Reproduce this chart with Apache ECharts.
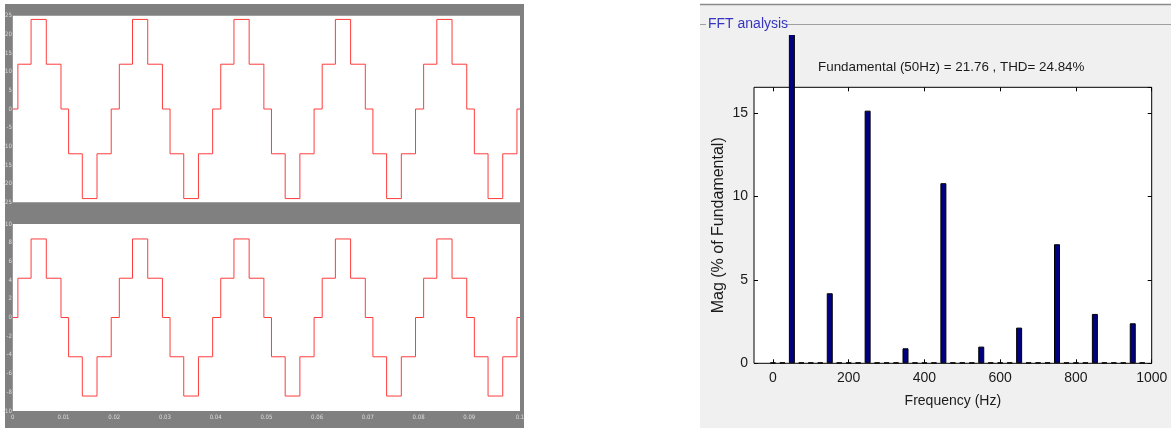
<!DOCTYPE html>
<html>
<head>
<meta charset="utf-8">
<script src="https://cdn.jsdelivr.net/npm/echarts@6/dist/echarts.min.js"></script>
<style>
html,body{margin:0;padding:0;background:#fff;}
#chart{width:1171px;height:430px;}
</style>
</head>
<body>
<div id="chart"></div>
<script>
// ---- Scope waveforms (time in s) ----
var waveTimes = [0,
  0.001, 0.0036, 0.0066, 0.0095, 0.011, 0.0137, 0.0166, 0.0194,
  0.021, 0.0236, 0.0266, 0.0295, 0.031, 0.0337, 0.0366, 0.0394,
  0.041, 0.0436, 0.0466, 0.0495, 0.051, 0.0537, 0.0566, 0.0594,
  0.061, 0.0636, 0.0666, 0.0695, 0.071, 0.0737, 0.0766, 0.0794,
  0.081, 0.0836, 0.0866, 0.0895, 0.091, 0.0937, 0.0966, 0.0994,
  0.1];
var topLevels = [0,
  12, 24, 12, 0, -12, -24, -12, 0,
  12, 24, 12, 0, -12, -24, -12, 0,
  12, 24, 12, 0, -12, -24, -12, 0,
  12, 24, 12, 0, -12, -24, -12, 0,
  12, 24, 12, 0, -12, -24, -12, 0,
  0];
var bottomLevels = [0,
  4.2, 8.4, 4.2, 0, -4.2, -8.4, -4.2, 0,
  4.2, 8.4, 4.2, 0, -4.2, -8.4, -4.2, 0,
  4.2, 8.4, 4.2, 0, -4.2, -8.4, -4.2, 0,
  4.2, 8.4, 4.2, 0, -4.2, -8.4, -4.2, 0,
  4.2, 8.4, 4.2, 0, -4.2, -8.4, -4.2, 0,
  0];

// ---- FFT spectrum ----
var fftFreqs = [0, 25, 50, 75, 100, 125, 150, 175, 200, 225,
  250, 275, 300, 325, 350, 375, 400, 425, 450, 475,
  500, 525, 550, 575, 600, 625, 650, 675, 700, 725,
  750, 775, 800, 825, 850, 875, 900, 925, 950, 975];
var fftMags = [0.05, 0.05, 100, 0.05, 0.05, 0.05, 4.2, 0.05, 0.05, 0.05,
  15.15, 0.05, 0.05, 0.05, 0.9, 0.05, 0.05, 0.05, 10.8, 0.05,
  0.05, 0.05, 1.0, 0.05, 0.05, 0.05, 2.14, 0.05, 0.05, 0.05,
  7.14, 0.05, 0.05, 0.05, 2.96, 0.05, 0.05, 0.05, 2.4, 0.05];
var freqTicks = [0, 200, 400, 600, 800, 1000];
var titleText = 'Fundamental (50Hz) = 21.76 , THD= 24.84%';

function pairs(xs, ys){ return xs.map(function(x,i){ return [x, ys[i]]; }); }
function plain(v){ return String(v); }

var scopeFont = "'Liberation Sans Narrow','DejaVu Sans Condensed',sans-serif";
var mainFont = "'Liberation Sans',Arial,sans-serif";
var noZeroLine = {show:false, onZero:false};

var chart = echarts.init(document.getElementById('chart'), null, {renderer:'canvas'});
var option = {
  backgroundColor: '#ffffff',
  animation: false,
  title: {
    text: titleText, left: 818, top: 61, padding: 0,
    textStyle: {fontFamily: mainFont, fontSize: 13.4, fontWeight: 'normal', color: '#1a1a1a'}
  },
  graphic: [
    {type:'rect', z:-10, shape:{x:5, y:4, width:519, height:424}, style:{fill:'#808080'}},
    {type:'rect', z:-10, shape:{x:700, y:4, width:471, height:424}, style:{fill:'#f0f0f0'}},
    {type:'rect', z:100, shape:{x:690, y:0, width:481, height:4}, style:{fill:'#ffffff'}},
    {type:'rect', z:100, shape:{x:700, y:4, width:471, height:31}, style:{fill:'#f0f0f0'}},
    {type:'line', z:101, shape:{x1:700, y1:4.5, x2:1171, y2:4.5}, style:{stroke:'#8a8a8a', lineWidth:1.5}},
    {type:'line', z:101, shape:{x1:700, y1:24.5, x2:706, y2:24.5}, style:{stroke:'#a0a0a0', lineWidth:1}},
    {type:'line', z:101, shape:{x1:786, y1:24.5, x2:1171, y2:24.5}, style:{stroke:'#a0a0a0', lineWidth:1}},
    {type:'text', z:102, x:708, y:24, style:{text:'FFT analysis', fill:'#3535c0', font:'14px ' + mainFont, textVerticalAlign:'middle'}}
  ],
  grid: [
    {left:12.3, top:15.7, width:507.7, height:186.6, show:true, backgroundColor:'#ffffff', borderWidth:0},
    {left:12.3, top:224, width:507.7, height:187, show:true, backgroundColor:'#ffffff', borderWidth:0},
    {left:754, top:87.3, width:397.7, height:276, show:true, backgroundColor:'#ffffff', borderColor:'#000000', borderWidth:1}
  ],
  xAxis: [
    {gridIndex:0, type:'value', min:0, max:0.1, interval:0.01,
     axisLine:noZeroLine, axisTick:{show:false}, splitLine:{show:false}, axisLabel:{show:false}},
    {gridIndex:1, type:'value', min:0, max:0.1, interval:0.01,
     axisLine:noZeroLine, axisTick:{show:false}, splitLine:{show:false},
     axisLabel:{show:true, margin:3, fontSize:6, color:'#dcdcdc', fontFamily:scopeFont}},
    {gridIndex:2, type:'value', min:-50, max:1000, position:'bottom',
     name:'Frequency (Hz)', nameLocation:'middle', nameGap:31,
     nameTextStyle:{fontFamily:mainFont, fontSize:14, color:'#1a1a1a'},
     axisLine:noZeroLine, splitLine:{show:false},
     axisTick:{show:true, inside:true, length:4, lineStyle:{color:'#000'}, customValues:freqTicks},
     axisLabel:{show:true, margin:8, fontFamily:mainFont, fontSize:14, color:'#1a1a1a', customValues:freqTicks, formatter:plain}},
    {gridIndex:2, type:'value', min:-50, max:1000, position:'top',
     axisLine:noZeroLine, splitLine:{show:false}, axisLabel:{show:false},
     axisTick:{show:true, inside:true, length:4, lineStyle:{color:'#000'}, customValues:freqTicks}}
  ],
  yAxis: [
    {gridIndex:0, type:'value', min:-25, max:25, interval:5,
     axisLine:noZeroLine, axisTick:{show:false}, splitLine:{show:false},
     axisLabel:{show:true, margin:1, fontSize:6, color:'#dcdcdc', fontFamily:scopeFont}},
    {gridIndex:1, type:'value', min:-10, max:10, interval:2,
     axisLine:noZeroLine, axisTick:{show:false}, splitLine:{show:false},
     axisLabel:{show:true, margin:1, fontSize:6, color:'#dcdcdc', fontFamily:scopeFont}},
    {gridIndex:2, type:'value', min:0, max:16.55, interval:5, position:'left',
     name:'Mag (% of Fundamental)', nameLocation:'middle', nameGap:27,
     nameTextStyle:{fontFamily:mainFont, fontSize:16, color:'#1a1a1a'},
     axisLine:noZeroLine, splitLine:{show:false},
     axisTick:{show:true, inside:true, length:4, lineStyle:{color:'#000'}},
     axisLabel:{show:true, margin:6, fontFamily:mainFont, fontSize:14, color:'#1a1a1a', showMaxLabel:false}},
    {gridIndex:2, type:'value', min:0, max:16.55, interval:5, position:'right',
     axisLine:noZeroLine, splitLine:{show:false}, axisLabel:{show:false},
     axisTick:{show:true, inside:true, length:4, lineStyle:{color:'#000'}}}
  ],
  series: [
    {type:'line', xAxisIndex:0, yAxisIndex:0, step:'end', showSymbol:false, symbol:'none',
     lineStyle:{color:'#ff3c3c', width:1}, data: pairs(waveTimes, topLevels)},
    {type:'line', xAxisIndex:1, yAxisIndex:1, step:'end', showSymbol:false, symbol:'none',
     lineStyle:{color:'#ff3c3c', width:1}, data: pairs(waveTimes, bottomLevels)},
    {type:'bar', xAxisIndex:2, yAxisIndex:2, barWidth:6, clip:false,
     itemStyle:{color:'#000080', borderColor:'#000000', borderWidth:1},
     data: pairs(fftFreqs, fftMags)}
  ]
};
chart.setOption(option);
</script>
</body>
</html>
